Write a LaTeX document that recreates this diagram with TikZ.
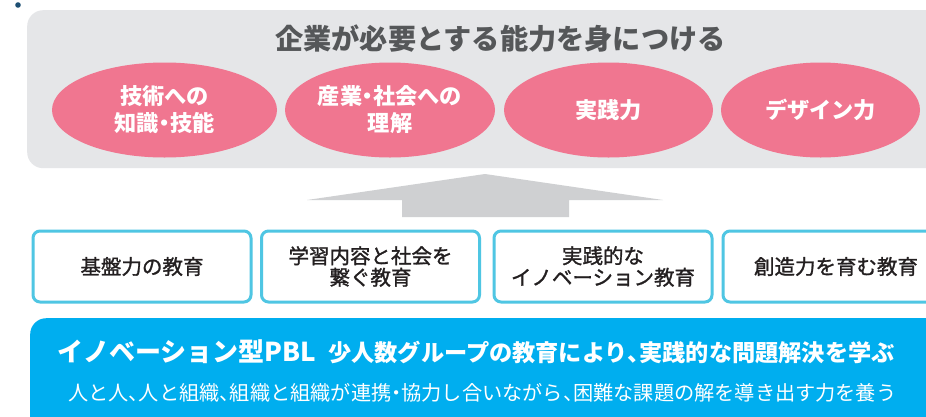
\documentclass[tikz,border=0pt]{standalone}
\usepackage{fontspec}
\setmainfont{Noto Sans CJK JP}
\newfontfamily\jpmed[RawFeature={embolden=1.3}]{Noto Sans CJK JP}
\usetikzlibrary{shapes.geometric}
\definecolor{panelgray}{HTML}{E5E6E8}
\definecolor{arrowgray}{HTML}{CFD0D2}
\definecolor{pinkfill}{HTML}{F07690}
\definecolor{cyanline}{HTML}{4FC6E3}
\definecolor{bluefill}{HTML}{00AEEF}
\definecolor{titlegray}{HTML}{555759}
\definecolor{dotblue}{HTML}{1D4F73}
\definecolor{boxtext}{HTML}{231F20}
\newcommand{\hcomma}{\makebox[0.5em][l]{、}}
\newcommand{\hdot}{\makebox[0.5em][c]{・}}
\tikzset{
  skill/.style={ellipse, fill=pinkfill, inner sep=0pt, minimum height=95pt, text=white,
    font=\fontsize{22.2}{27}\selectfont\bfseries, align=center},
  edubox/.style={draw=cyanline, line width=3pt, rounded corners=7pt, fill=white,
    minimum width=218pt, minimum height=71pt, inner sep=0pt, text=boxtext,
    font=\jpmed\fontsize{20.5}{21.5}\selectfont, align=center},
}
\begin{document}
\begin{tikzpicture}[x=1pt,y=-1pt]
\clip (0,0) rectangle (926,416);
\fill[white] (0,0) rectangle (926,416);
% dot
\fill[dotblue] (18,5) circle (2.8pt);
% top panel
\node[fill=panelgray, rounded corners=16pt, minimum width=940pt, minimum height=158pt, inner sep=0pt, anchor=north west] (panel) at (27,10) {};
\node[text=titlegray, font=\fontsize{28.2}{30}\selectfont\bfseries] (title) at (500.5,39) {企業が必要とする能力を身につける};
\node[skill, minimum width=225pt] (s1) at (164.5,110) {技術への\\知識\hdot 技能};
\node[skill, minimum width=210pt] (s2) at (390,110) {産業\hdot 社会への\\理解};
\node[skill, minimum width=209pt] (s3) at (608.5,110) {実践力};
\node[skill, minimum width=199pt] (s4) at (820.5,110) {デザイン力};
% big arrow
\fill[arrowgray] (402,217) -- (402,200) -- (307,200) -- (485,174) -- (663,200) -- (569,200) -- (569,217) -- cycle;
% education boxes
\node[edubox] (e1) at (142,266.5) {基盤力の教育};
\node[edubox] (e2) at (370.5,266.5) {学習内容と社会を\\繋ぐ教育};
\node[edubox] (e3) at (603,266.5) {実践的な\\イノベーション教育};
\node[edubox, minimum width=220pt, text width=206pt] (e4) at (833,266.5) {\hspace*{6pt}創造力を育む教育};
% bottom band
\node[fill=bluefill, rounded corners=16pt, minimum width=940pt, minimum height=130pt, inner sep=0pt, anchor=north west] (band) at (30,318) {};
\node[anchor=base west, text=white, inner sep=0pt, font=\fontsize{26}{28}\selectfont\bfseries] (l1a) at (57,361) {イノベーション型PBL};
\node[anchor=base west, text=white, inner sep=0pt, font=\fontsize{23.2}{25}\selectfont\bfseries] (l1b) at (328,361) {少人数グループの教育により\hcomma 実践的な問題解決を学ぶ};
\node[anchor=base west, text=white, inner sep=0pt, font=\fontsize{20.2}{22}\selectfont] (l2) at (68,400) {人と人\hcomma 人と組織\hcomma 組織と組織が連携\hdot 協力し合いながら\hcomma 困難な課題の解を導き出す力を養う};
\end{tikzpicture}
\end{document}
